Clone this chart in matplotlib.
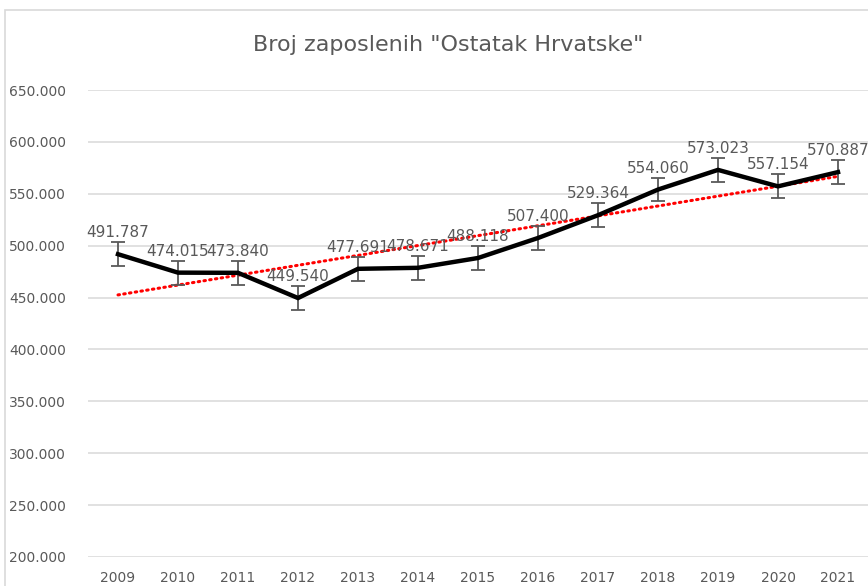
import numpy as np
import matplotlib
matplotlib.use("Agg")
import matplotlib.pyplot as plt
from matplotlib.patches import Rectangle
from matplotlib.ticker import FuncFormatter, MultipleLocator

years = ["2009", "2010", "2011", "2012", "2013", "2014", "2015",
         "2016", "2017", "2018", "2019", "2020", "2021"]
employed = [491787, 474015, 473840, 449540, 477691, 478671, 488118,
            507400, 529364, 554060, 573023, 557154, 570887]
error = [11500] * len(years)
title = 'Broj zaposlenih "Ostatak Hrvatske"'

TXT = "#595959"
GRID = "#d9d9d9"

plt.rcParams['font.family'] = ['DejaVu Sans']

fig = plt.figure(figsize=(8.68, 5.86), dpi=100)
W, H = 868, 586

# chart border
fig.patches.append(Rectangle((5 / W, -0.1), 1.2, (H - 10) / H + 0.1,
                             transform=fig.transFigure, fill=False,
                             edgecolor=GRID, linewidth=1.2))

ax = fig.add_axes([88 / W, (H - 557) / H, (868 - 88) / W, (557 - 90) / H])
x = np.arange(len(years))
y = np.array(employed)

# linear trendline
coef = np.polyfit(x, y, 1)
ax.plot(x, np.polyval(coef, x), color="#ff0000", linestyle=(0, (0.5, 1.4)),
        linewidth=2.2, dash_capstyle="round", zorder=2)

ax.errorbar(x, y, yerr=error, fmt="none", ecolor=TXT, elinewidth=1.3,
            capsize=5, capthick=1.3, zorder=3)
ax.plot(x, y, color="black", linewidth=3.2, solid_joinstyle="miter", zorder=4)

for xi, yi in zip(x, y):
    lab = f"{yi:,}".replace(",", ".")
    ax.annotate(lab, (xi, yi), xytext=(0, 10), textcoords="offset points",
                ha="center", va="bottom", fontsize=11, color=TXT, zorder=5)

ax.set_xlim(-0.5, len(years) - 0.5)
ax.set_ylim(200000, 650000)
ax.yaxis.set_major_locator(MultipleLocator(50000))
ax.yaxis.set_major_formatter(FuncFormatter(lambda v, p: f"{int(v):,}".replace(",", ".")))
ax.set_xticks(x)
ax.set_xticklabels(years)
ax.grid(axis="y", color=GRID, linewidth=1.1)
ax.set_axisbelow(True)
for s in ax.spines.values():
    s.set_visible(False)
ax.tick_params(axis="both", length=0, colors=TXT, labelsize=10)
ax.tick_params(axis="y", pad=16)
ax.tick_params(axis="x", pad=10)

fig.text(448 / W, (H - 45) / H, title, ha="center", va="center",
         fontsize=16, color=TXT)

fig.savefig("out.png", dpi=100)
